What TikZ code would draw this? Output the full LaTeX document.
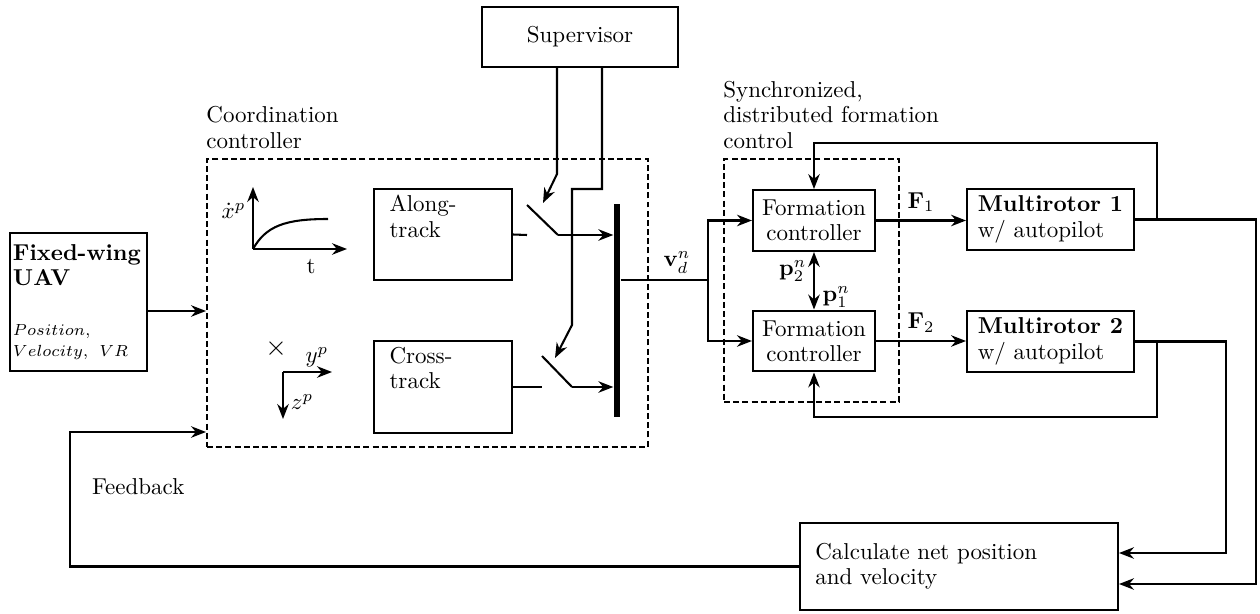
\documentclass[tikz,border=0pt]{standalone}
\usepackage{amsmath, amssymb}
\usepackage{tikz}
\usetikzlibrary{arrows.meta, positioning, calc}

\tikzset{
    box/.style={draw, line width=0.9pt, inner sep=3pt},
    dashbox/.style={draw, line width=0.9pt, dash pattern=on 2.6pt off 1.4pt},
    wire/.style={line width=0.9pt},
    arrow/.style={line width=0.9pt, -{Stealth[length=6.5pt,width=5pt]}},
    twoway/.style={line width=0.9pt, {Stealth[length=6.5pt,width=5pt]}-{Stealth[length=6.5pt,width=5pt]}},
    thinarrow/.style={line width=0.5pt, -{Stealth[length=6.5pt,width=5pt]}},
    tag/.style={inner sep=0.5pt}
}

\begin{document}
\begin{tikzpicture}[x=0.435pt, y=-0.435pt, font=\fontsize{10}{11}\selectfont]
    \useasboundingbox (0,0) rectangle (1260,614);

    % Main blocks
    \node[box, minimum width=59.6pt, minimum height=60pt, align=left, text width=57pt, inner xsep=1.3pt] (uav) at (78.5,302)
        {\textbf{Fixed-wing}\\\textbf{UAV}\\[11pt]{\scriptsize $Position,$}\\[-2pt]{\scriptsize $Velocity,\ VR$}};
    \node[box, minimum width=85.3pt, minimum height=26.1pt] (sup) at (580,37) {Supervisor};

    % Coordination controller
    \node[dashbox, minimum width=191.8pt, minimum height=125.3pt] (coord) at (427.5,303) {};
    \node[anchor=south west, align=left, inner xsep=0, inner ysep=4pt] (coordlbl) at (coord.north west) {Coordination\\controller};
    \node[box, minimum width=60pt, minimum height=39.6pt] (along) at (443,234.5) {};
    \node[anchor=north west, align=left, inner xsep=7pt, inner ysep=3pt] (alonglbl) at (along.north west) {Along-\\track};
    \node[box, minimum width=60pt, minimum height=40pt] (cross) at (443,387) {};
    \node[anchor=north west, align=left, inner xsep=7pt, inner ysep=3pt] (crosslbl) at (cross.north west) {Cross-\\track};
    \node[fill=black, inner sep=0, minimum width=2.8pt, minimum height=92.7pt] (bar) at (617,310.5) {};

    % Along-track profile
    \coordinate (o1) at (253,249);
    \draw[arrow] (o1) -- (253,187);
    \draw[arrow] (o1) -- (347,249);
    \draw[wire] (o1) .. controls (266,226) and (285,219) .. (328,219);
    \node[tag, anchor=east] (xdot) at (247,211) {$\dot{x}^p$};
    \node[tag] (tlbl) at (311,267) {t};

    % Cross-track frame
    \coordinate (o2) at (283,372);
    \node[tag] (xmark) at (276,349) {\large$\times$};
    \draw[arrow] (o2) -- (332,372);
    \draw[arrow] (o2) -- (283,419);
    \node[tag] (ylbl) at (317,357) {$y^p$};
    \node[tag] (zlbl) at (302,402) {$z^p$};

    % Switches
    \coordinate (s1) at (527,235);
    \coordinate (s1p) at (558,235);
    \coordinate (s2) at (542,387);
    \coordinate (s2p) at (572,387);
    \draw[wire] (along.east) -- (s1);
    \draw[wire] (527,205) -- (s1p);
    \draw[arrow] (s1p) -- (bar.west |- s1p);
    \draw[wire] (cross.east) -- (s2);
    \draw[wire] (542,356) -- (s2p);
    \draw[arrow] (s2p) -- (bar.west |- s2p);

    % Supervisor commands
    \coordinate (sa) at (557,174);
    \coordinate (sb) at (602,189);
    \draw[arrow] (sup.south -| sa) -- (sa) -- (543,203);
    \draw[arrow] (sup.south -| sb) -- (sb) -| (572,325) -- (555,358);

    % Formation control
    \node[dashbox, minimum width=76.1pt, minimum height=105.7pt] (sync) at (811.5,280.5) {};
    \node[anchor=south west, align=left, inner xsep=0, inner ysep=4pt] (synclbl) at (sync.north west) {Synchronized,\\distributed formation\\control};
    \node[box, minimum width=53.1pt, minimum height=26.5pt, align=center] (fc1) at (814,220.5) {Formation\\controller};
    \node[box, minimum width=53.1pt, minimum height=26.5pt, align=center] (fc2) at (814,341) {Formation\\controller};
    \draw[twoway] (fc1.south) -- (fc2.north);
    \node[tag, anchor=east] (p2) at (808,271) {$\mathbf{p}_2^n$};
    \node[tag, anchor=west] (p1) at (821,297) {$\mathbf{p}_1^n$};

    % Velocity reference split
    \coordinate (vs) at (708,280);
    \draw[wire] (bar.east |- vs) -- (vs);
    \node[above, inner sep=1pt] (vlbl) at (677,276) {$\mathbf{v}_d^n$};
    \draw[arrow] (vs) |- (fc1.west);
    \draw[arrow] (vs) |- (fc2.west);

    % Multirotors
    \node[box, minimum width=72.6pt, minimum height=26.5pt, align=left] (mr1) at (1050.5,219.5) {\textbf{Multirotor 1}\\w/ autopilot};
    \node[box, minimum width=72.6pt, minimum height=26.5pt, align=left] (mr2) at (1050.5,341.5) {\textbf{Multirotor 2}\\w/ autopilot};
    \draw[arrow] (fc1.east) -- node[above] (f1lbl) {$\mathbf{F}_1$} (mr1.west |- fc1.east);
    \draw[arrow] (fc2.east) -- node[above] (f2lbl) {$\mathbf{F}_2$} (mr2.west |- fc2.east);

    % Local state feedback
    \coordinate (t1) at (1157,143);
    \coordinate (t2) at (1157,417);
    \draw[thinarrow] (mr1.east -| t1) -- (t1) -| (fc1.north);
    \draw[thinarrow] (mr2.east -| t2) -- (t2) -| (fc2.south);

    % Net position and velocity
    \node[box, minimum width=138.3pt, minimum height=37.8pt, text width=125pt, align=left, inner xsep=6.5pt] (calc) at (959,566.5) {Calculate net position\\and velocity};
    \coordinate (r1) at (1256,584);
    \coordinate (r2) at (1226,553);
    \draw[arrow] (mr1.east) -| (r1) -- (calc.east |- r1);
    \draw[arrow] (mr2.east) -| (r2) -- (calc.east |- r2);

    % Feedback to coordination
    \coordinate (fb) at (70,432);
    \draw[arrow] (calc.west) -| (fb) -- (coord.west |- fb);
    \node[anchor=west] (fblbl) at (84,487) {Feedback};

    \coordinate (uo) at (147,311);
    \draw[arrow] (uav.east |- uo) -- (coord.west |- uo);
\end{tikzpicture}
\end{document}
